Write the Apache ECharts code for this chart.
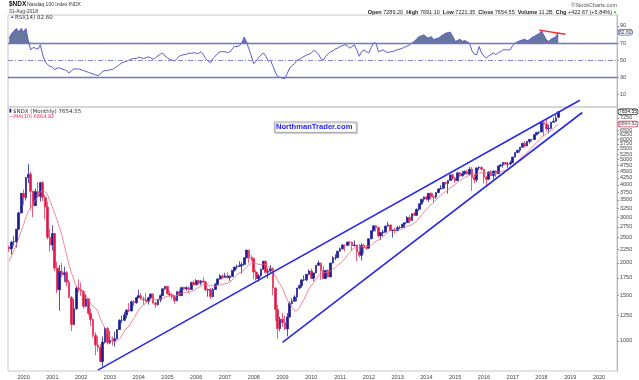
<!DOCTYPE html>
<html><head><meta charset="utf-8">
<script src="https://cdn.jsdelivr.net/npm/echarts@6/dist/echarts.min.js"></script>
<style>html,body{margin:0;padding:0;background:#fff}#c{width:639px;height:380px}</style>
</head><body><div id="c"></div>
<script>
// ---- axis definitions ----
const startYear = 1999, startMonth = 7, monthCount = 254; // Jul 1999 .. Aug 2020
const yearLabels = ['2000','2001','2002','2003','2004','2005','2006','2007','2008','2009','2010','2011','2012','2013','2014','2015','2016','2017','2018','2019','2020'];
const priceTicks = [1000,1250,1500,1750,2000,2250,2500,2750,3000,3250,3500,3750,4000,4250,4500,4750,5000,5250,5500,5750,6000,6250,6500,7250];
const rsiTicks = [10,30,50,70,90];

// ---- monthly OHLC, Jul 1999 .. Aug 2018 ----
const opens = [
2296,2265,2406,2407,2696,3116,
3708,3570,4266,4397,3773,3325,3764,3609,4077,3571,3283,2506,
2342,2593,1908,1574,1855,1800,1830,1683,1470,1155,1330,1599,
1577,1551,1359,1452,1277,1209,1052,963,942,832,989,1116,
984,1003,1000,1018,1106,1201,1201,1257,1315,1304,1415,1404,
1468,1494,1450,1439,1419,1467,1516,1401,1378,1439,1494,1588,
1621,1518,1504,1483,1429,1549,1494,1605,1589,1601,1578,1680,
1645,1707,1671,1703,1685,1574,1575,1481,1578,1654,1734,1780,
1757,1782,1752,1772,1869,1926,1935,1949,1972,2091,2239,2091,
2085,1842,1739,1781,1887,2030,1837,1860,1900,1598,1320,1115,
1212,1175,1112,1237,1394,1422,1477,1598,1633,1717,1719,1806,
1860,1742,1829,1957,1997,1864,1741,1867,1764,1997,2092,2092,
2218,2264,2343,2338,2404,2403,2325,2342,2205,2139,2338,2288,
2278,2475,2659,2777,2737,2545,2616,2631,2772,2799,2664,2678,
2661,2731,2739,2819,2855,2987,2910,3091,3049,3218,3378,3519,
3592,3521,3708,3596,3586,3737,3850,3878,4083,4049,4158,4365,
4236,4158,4448,4334,4415,4509,4397,4589,4274,4181,4648,4665,
4593,4279,4201,4483,4341,4523,4417,4731,4771,4875,4801,4810,
4864,5118,5330,5436,5584,5788,5647,5880,5988,5980,6248,6363,
6397,6950,6855,6581,6605,6968,7040,7289.20];
const highs = [
2330,2420,2530,2700,3150,3715,
3840,4290,4816,4480,3800,3865,4100,4100,4134,3660,3440,2700,
2790,2610,2020,1960,2000,1930,1860,1720,1490,1450,1620,1725,
1680,1570,1510,1460,1330,1220,1080,1040,970,1040,1130,1130,
1090,1040,1085,1110,1210,1250,1290,1320,1400,1430,1440,1480,
1570,1530,1480,1525,1480,1520,1520,1420,1450,1510,1590,1630,
1625,1560,1530,1500,1550,1580,1615,1620,1625,1620,1690,1710,
1730,1720,1720,1760,1700,1590,1600,1600,1670,1740,1810,1800,
1830,1840,1790,1880,1930,1970,2030,2010,2100,2240,2240,2140,
2090,1880,1810,1900,2030,2040,1900,1960,1920,1610,1380,1240,
1280,1250,1280,1420,1460,1500,1600,1650,1730,1790,1810,1885,
1900,1830,1960,2040,2000,1940,1880,1890,2000,2120,2160,2220,
2290,2360,2350,2410,2420,2410,2440,2350,2360,2380,2370,2340,
2480,2670,2780,2795,2760,2630,2680,2780,2880,2810,2690,2740,
2780,2780,2830,2870,3030,3050,3100,3150,3240,3380,3520,3600,
3630,3720,3740,3640,3740,3860,3990,4090,4120,4160,4380,4400,
4290,4460,4480,4530,4540,4560,4680,4690,4400,4660,4720,4720,
4600,4330,4510,4560,4540,4540,4740,4820,4890,4900,4900,4960,
5130,5330,5440,5590,5800,5900,5910,5990,6000,6250,6410,6430,
7020,7030,7190,6840,7000,7250,7440,7691.10];
const lows = [
2209,2150,2330,2290,2670,3100,
3350,3480,4060,3205,3000,3310,3550,3450,3460,2950,2460,2205,
2230,1860,1530,1306,1760,1690,1620,1460,1090,1150,1320,1540,
1490,1330,1350,1255,1140,1030,880,910,830,795,975,970,
970,960,950,1010,1100,1170,1190,1220,1290,1300,1360,1390,
1460,1440,1380,1410,1380,1450,1390,1340,1370,1410,1490,1570,
1510,1480,1450,1390,1420,1490,1490,1570,1560,1530,1575,1640,
1640,1650,1640,1680,1550,1480,1450,1470,1570,1640,1720,1730,
1750,1740,1700,1770,1850,1890,1930,1820,1950,2080,1990,2030,
1730,1710,1690,1770,1880,1830,1740,1830,1500,1190,1020,1090,
1130,1100,1040,1230,1380,1420,1420,1580,1600,1700,1700,1790,
1730,1700,1820,1950,1720,1740,1730,1760,1760,1990,2050,2090,
2210,2250,2210,2320,2330,2240,2320,2030,2100,2040,2170,2240,
2270,2470,2640,2640,2500,2450,2530,2620,2760,2650,2500,2600,
2660,2700,2730,2720,2850,2840,2900,3040,3040,3170,3350,3430,
3480,3430,3500,3410,3530,3710,3840,3860,4000,3700,4150,4180,
4070,4130,4290,4300,4370,4390,4350,3790,4060,4100,4550,4540,
4050,3950,4190,4320,4210,4290,4400,4700,4660,4770,4650,4760,
4850,5100,5290,5330,5580,5600,5640,5770,5850,5970,6200,6270,
6390,6160,6440,6320,6550,6960,7000,7221.35];
const closes = [
2265,2406,2407,2696,3116,3708,
3570,4266,4397,3773,3325,3764,3609,4077,3571,3283,2506,2342,
2593,1908,1574,1855,1800,1830,1683,1470,1155,1330,1599,1577,
1551,1359,1452,1277,1209,1052,963,942,832,989,1116,984,
1003,1000,1018,1106,1201,1201,1257,1315,1304,1415,1404,1468,
1494,1450,1439,1419,1467,1516,1401,1378,1439,1494,1588,1621,
1518,1504,1483,1429,1549,1494,1605,1589,1601,1578,1680,1645,
1707,1671,1703,1685,1574,1575,1481,1578,1654,1734,1780,1757,
1782,1752,1772,1869,1926,1935,1949,1972,2091,2239,2091,2085,
1842,1739,1781,1887,2030,1837,1860,1900,1598,1320,1115,1212,
1175,1112,1237,1394,1422,1477,1598,1633,1717,1719,1806,1860,
1742,1829,1957,1997,1864,1741,1867,1764,1997,2092,2092,2218,
2264,2343,2338,2404,2403,2325,2342,2205,2139,2338,2288,2278,
2475,2659,2777,2737,2545,2616,2631,2772,2799,2664,2678,2661,
2731,2739,2819,2855,2987,2910,3091,3049,3218,3378,3519,3592,
3521,3708,3596,3586,3737,3850,3878,4083,4049,4158,4365,4236,
4158,4448,4334,4415,4509,4397,4589,4274,4181,4648,4665,4593,
4279,4201,4483,4341,4523,4417,4731,4771,4875,4801,4810,4864,
5118,5330,5436,5584,5788,5647,5880,5988,5980,6248,6363,6397,
6950,6855,6581,6605,6968,7040,7231.88,7654.55];
// MA(10) values for the first 9 months (earlier history not shown)
const maEarly = [2030,2130,2240,2360,2490,2650,2810,3000,3170];
// RSI(14)
const rsi14 = [
76,81,84,87,83,87,83,87,72,62,
65,64,63,68,56,48,45,43,42,39,
41,41,40,39,38,35,38,40,40,40,
39,38,37,36,35,34,33,32,34,37,
38,38,39,39,41,43,45,47,48,49,
50,51.5,52,52,53.5,53,52,53,54,53,
51,53,55,57,58.5,55,53,51,50,49,
52,55,56,56.5,57,58.5,58,59,58,58,
60,56.5,52,49,47,52,55,58,60,60,
60,59,59.6,63,66,66,67,70,77,71,
63,55,46,49,53,56,58.5,55,49,50,
43,36,31,30,29,28.8,35,41,44,46,
50,51,53,54.5,56,57,58.5,61.5,60,57,
52,50,54.6,57,60,61,63,64,66,67,
68,67,64,66,68,62,54.6,60,62,60,
58.5,65,70,70,60,61,62,60,59,60,
60,61.5,62.3,63,64,65.5,66.5,68,70,72,
75,77.7,78.5,79.6,77,75.8,77.7,74,75,75.8,
78,79.6,81.6,82,82.7,77.7,72,73,74.6,72,
73,71.5,70,61,57,56.5,66,58.5,55,52.7,
55,57,58.5,56.5,59,60,62.3,62.3,62,62.3,
67,70,71.5,72.7,73.5,74.6,72.7,74,76.5,77.7,
79.6,81,84,79,74,72,74.6,76,77.5,82.6];
const lastClose = 7654.55, lastMA = 6864.82, lastRSI = 82.60;
// annotation lines (endpoints as month / value)
const channelUpper = [['2002-08', 771], ['2019-05', 8475]];
const channelLower = [['2009-01', 987], ['2019-06', 7603]];
const rsiDivergence = [['2017-12', 85.2], ['2018-11', 80.3]];

// ---- build ----
const categories = [];
for (let k = 0; k < monthCount; k++) {
  const m0 = startMonth - 1 + k;
  const y = startYear + Math.floor(m0 / 12);
  const m = m0 % 12 + 1;
  categories.push(y + '-' + String(m).padStart(2, '0'));
}
const candleData = closes.map((c, i) => [opens[i], c, lows[i], highs[i]]);
const ma10 = closes.map((c, i) => {
  if (i < 9) return maEarly[i];
  let s = 0; for (let j = i - 9; j <= i; j++) s += closes[j];
  return +(s / 10).toFixed(2);
});
const rsiFill = rsi14.map(v => Math.max(v, 70));

const FONT = '"Liberation Sans", Arial, sans-serif';
const axisLab = { fontFamily: FONT, fontSize: 5.5, color: '#444' };
const hidden = { color: 'rgba(0,0,0,0)', width: 0 };
const boxLabel = { show: true, position: 'end', distance: 1.5, fontFamily: FONT, fontSize: 5, backgroundColor: '#fff',
  borderWidth: 0.8, borderRadius: 2, padding: [0, 0.5, 0, 0.5] };

const chart = echarts.init(document.getElementById('c'), null, { renderer: 'canvas' });
chart.setOption({
  animation: false,
  backgroundColor: '#fff',
  grid: [
    { left: 8, top: 15, width: 609, height: 92, show: true, borderColor: '#c8c8c8', borderWidth: 1 },
    { left: 8, top: 107, width: 609, height: 265, show: true, borderColor: '#c8c8c8', borderWidth: 1 }
  ],
  xAxis: [
    { type: 'category', gridIndex: 0, data: categories, axisLine: { show: false }, axisTick: { show: false }, axisLabel: { show: false }, splitLine: { show: false } },
    { type: 'category', gridIndex: 1, data: categories, axisLine: { show: false }, axisTick: { show: false }, splitLine: { show: false },
      axisLabel: Object.assign({}, axisLab, { margin: 3,
        interval: (idx, v) => v.endsWith('-01') && yearLabels.includes(v.slice(0, 4)),
        formatter: v => v.slice(0, 4) }) }
  ],
  yAxis: [
    { type: 'value', gridIndex: 0, position: 'right', min: -4.4, max: 102.7, splitLine: { show: false },
      axisLine: { show: true, lineStyle: { color: '#b8b8b8' } },
      axisTick: { show: true, length: 2, customValues: rsiTicks, lineStyle: { color: '#999' } },
      axisLabel: Object.assign({}, axisLab, { margin: 3, customValues: rsiTicks, formatter: v => String(v) }) },
    { type: 'log', gridIndex: 1, position: 'right', min: 765, max: 7983, splitLine: { show: false },
      axisLine: { show: true, lineStyle: { color: '#b8b8b8' } },
      axisTick: { show: true, length: 2, customValues: priceTicks, lineStyle: { color: '#999' } },
      axisLabel: Object.assign({}, axisLab, { margin: 3, customValues: priceTicks, formatter: v => String(Math.round(v)) }) }
  ],
  series: [
    { type: 'line', xAxisIndex: 0, yAxisIndex: 0, data: rsiFill, symbol: 'none', silent: true,
      lineStyle: { width: 0 }, areaStyle: { origin: 70, color: '#67769f', opacity: 1 }, z: 1 },
    { type: 'line', xAxisIndex: 0, yAxisIndex: 0, data: rsi14, symbol: 'none', silent: true,
      lineStyle: { color: '#5c5cc8', width: 1 }, z: 3,
      markLine: { silent: true, symbol: 'none', animation: false,
        data: [
          { yAxis: 70, lineStyle: { color: '#7272cc', width: 1.3, type: 'solid' }, label: { show: false } },
          { yAxis: 30, lineStyle: { color: '#7272cc', width: 1.3, type: 'solid' }, label: { show: false } },
          { yAxis: 50, lineStyle: { color: '#8a8ad2', width: 1, type: [5, 2, 1, 2] }, label: { show: false } },
          { yAxis: lastRSI, lineStyle: hidden,
            label: Object.assign({}, boxLabel, { formatter: lastRSI.toFixed(2), color: '#333', borderColor: '#5060b8' }) }
        ] } },
    { type: 'line', xAxisIndex: 0, yAxisIndex: 0, data: rsiDivergence, symbol: 'none', silent: true,
      lineStyle: { color: '#ff2a2a', width: 1.3 }, z: 4, clip: false },
    { type: 'candlestick', xAxisIndex: 1, yAxisIndex: 1, data: candleData, barWidth: 2.2, silent: true,
      itemStyle: { color: '#1c1c8c', color0: '#e3124a', borderColor: '#2a2a9e', borderColor0: '#e8355e', borderWidth: 0.8 },
      markLine: { silent: true, symbol: 'none', lineStyle: hidden, label: boxLabel,
        data: [
          { yAxis: lastMA, lineStyle: hidden, label: Object.assign({}, boxLabel, { formatter: lastMA.toFixed(2), color: '#555', borderColor: '#e0305a' }) },
          { yAxis: lastClose, lineStyle: hidden, label: Object.assign({}, boxLabel, { formatter: lastClose.toFixed(2), color: '#111', borderColor: '#333' }) }
        ] } },
    { type: 'line', xAxisIndex: 1, yAxisIndex: 1, data: ma10, symbol: 'none', silent: true,
      lineStyle: { color: '#f06a82', width: 0.8 }, z: 3 },
    { type: 'line', xAxisIndex: 1, yAxisIndex: 1, data: channelUpper, symbol: 'none', silent: true, clip: false,
      lineStyle: { color: '#2a2ae8', width: 1.6 }, z: 5 },
    { type: 'line', xAxisIndex: 1, yAxisIndex: 1, data: channelLower, symbol: 'none', silent: true, clip: false,
      lineStyle: { color: '#2a2ae8', width: 1.6 }, z: 5 }
  ],
  graphic: [
    { type: 'text', left: 9, top: 1, style: { text: '$NDX', font: 'bold 6.5px ' + FONT, fill: '#111' } },
    { type: 'text', left: 27, top: 2, style: { text: 'Nasdaq 100 Index INDX', font: '5px ' + FONT, fill: '#333' } },
    { type: 'text', left: 9, top: 9, style: { text: '31-Aug-2018', font: '5px ' + FONT, fill: '#333' } },
    { type: 'text', right: 22, top: 2, style: { text: '\u00a9StockCharts.com', font: '5.5px ' + FONT, fill: '#555' } },
    { type: 'text', right: 27, top: 9, style: {
        text: '{b|Open} 7289.20  {b|High} 7691.10  {b|Low} 7221.35  {b|Close} 7654.55  {b|Volume} 11.2B  {b|Chg} +422.67 (+5.84%)',
        font: '5.5px ' + FONT, fill: '#222', rich: { b: { fontWeight: 'bold', fontSize: 5.5, fontFamily: FONT } } } },
    { type: 'text', left: 613, top: 9.5, style: { text: '\u25b2', font: '4px ' + FONT, fill: '#2a9a2a' } },
    { type: 'text', left: 10, top: 14.5, style: { text: '\u25b2', font: '4.5px ' + FONT, fill: '#4f5f95' } },
    { type: 'text', left: 15, top: 14.5, style: { text: 'RSI(14) 82.60', font: '5.5px "DejaVu Sans", sans-serif', fill: '#333' } },
    { type: 'text', left: 9, top: 108.5, style: { text: '\u25ae', font: '5px ' + FONT, fill: '#1c1c8c' } },
    { type: 'text', left: 13, top: 108.5, style: { text: '$NDX (Monthly) 7654.55', font: '5.5px "DejaVu Sans", sans-serif', fill: '#333' } },
    { type: 'text', left: 9, top: 114, style: { text: '\u2014MA(10) 6864.82', font: '5px "DejaVu Sans", sans-serif', fill: '#e0305a' } },
    { type: 'rect', left: 274, top: 121.5, shape: { width: 82, height: 10.5 },
      style: { fill: '#fff', stroke: '#a0a0a0', lineWidth: 0.8, shadowBlur: 1.5, shadowColor: 'rgba(0,0,0,0.35)', shadowOffsetX: 1, shadowOffsetY: 1 } },
    { type: 'text', left: 276, top: 123, style: { text: 'NorthmanTrader.com', font: 'bold 7.6px ' + FONT, fill: '#1a1aff' } }
  ]
});
</script></body></html>
